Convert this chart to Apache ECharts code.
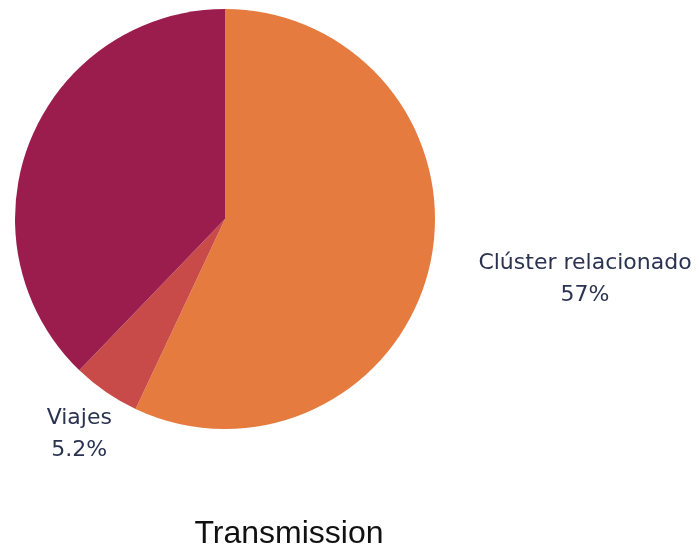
<!DOCTYPE html>
<html><head><meta charset="utf-8">
<script src="https://cdn.jsdelivr.net/npm/echarts@6/dist/echarts.min.js"></script>
<style>html,body{margin:0;padding:0;background:#fff}#c{width:699px;height:550px}</style>
</head><body><div id="c"></div>
<script>
const categories = ['Clúster relacionado', 'Viajes', ''];
const values = [57, 5.2, 37.8];
const colors = ['#E57B3E', '#C84B4A', '#9B1D4E'];
const showLabel = [true, true, false];
const lineLen = [65, 51, 0];
const lineLen2 = [-20, -40, 0];

const chart = echarts.init(document.getElementById('c'), null, {renderer: 'canvas'});
chart.setOption({
  animation: false,
  title: {
    text: 'Transmission', left: 289, top: 518, textAlign: 'center', padding: 0,
    textStyle: {fontFamily: 'Liberation Sans', fontSize: 32, fontWeight: 'normal', color: '#111'}
  },
  series: [{
    type: 'pie',
    center: [225, 219],
    radius: [0, 210],
    startAngle: 90,
    clockwise: true,
    avoidLabelOverlap: false,
    label: {
      show: true, position: 'outside',
      formatter: '{a|{b}}\n{a|{d}%}',
      rich: {a: {fontFamily: 'DejaVu Sans', fontSize: 22, color: '#2A3350', align: 'center', lineHeight: 32}}
    },
    labelLine: {show: false},
    data: categories.map((n, i) => ({
      name: n, value: values[i],
      itemStyle: {color: colors[i]},
      label: {show: showLabel[i]},
      labelLine: {show: false, length: lineLen[i], length2: lineLen2[i]}
    }))
  }]
});
</script></body></html>
